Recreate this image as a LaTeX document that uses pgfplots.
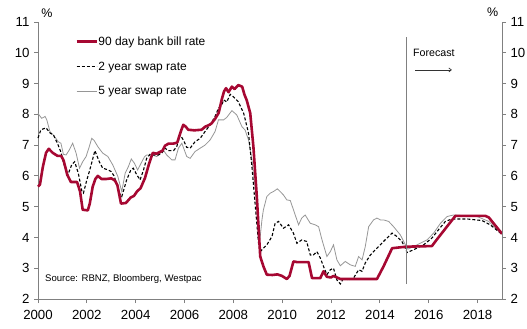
\documentclass[border=0pt]{standalone}
\usepackage{pgfplots}
\pgfplotsset{compat=1.18}
\usepackage{fontspec}
\setmainfont{Liberation Sans}
\usetikzlibrary{arrows.meta}
\definecolor{wred}{RGB}{166,8,50}
\definecolor{wgrey}{RGB}{150,150,150}
\definecolor{axgrey}{RGB}{128,128,128}

\begin{document}
\begin{tikzpicture}
\pgfplotsset{
  common/.style={
    scale only axis, width=464bp, height=277bp,
    xmin=2000, xmax=2019, ymin=2, ymax=11,
    at={(0bp,0bp)}, anchor=origin,
    /pgf/number format/assume math mode=true,
    ticklabel style={font=\fontsize{13.3}{15}\selectfont},
    tick style={axgrey, line width=0.8bp},
    axis line style={axgrey, line width=1bp},
    tick align=outside,
    major tick length=4bp,
    ytick={2,3,...,11},
  }
}
\begin{axis}[common,
  axis x line*=bottom, axis y line*=left,
  xtick={2000,2002,...,2018},
  xticklabel style={/pgf/number format/1000 sep={}, yshift=-3.5bp},
  yticklabel style={xshift=-1bp},
  legend style={at={(rel axis cs:0.08,0.962)}, anchor=north west, draw=none, fill=none,
    font=\fontsize{12}{14}\selectfont, row sep=11bp, inner xsep=0bp,
    nodes={inner xsep=0.5bp}},
  legend cell align=left,
  legend image code/.code={\draw[#1] (0bp,0bp) -- (20bp,0bp);},
  clip=false,
]
\addplot[wgrey, line width=0.8bp, forget plot] coordinates {
(2000.0,8.03)(2000.15,7.87)(2000.29,7.93)(2000.36,7.82)(2000.49,7.44)(2000.63,7.33)(2000.83,7.11)(2000.94,7.06)
(2001.04,6.7)(2001.15,6.68)(2001.28,6.84)(2001.42,7.06)(2001.56,6.74)(2001.7,6.25)(2001.83,6.46)(2001.97,6.63)
(2002.1,6.95)(2002.2,7.22)(2002.3,7.15)(2002.45,6.95)(2002.65,6.74)(2002.86,6.63)(2003.06,6.36)(2003.27,5.98)
(2003.43,5.49)(2003.57,6.09)(2003.7,6.3)(2003.82,6.55)(2003.95,6.41)(2004.08,6.19)(2004.22,6.41)(2004.36,6.62)
(2004.45,6.68)(2004.66,6.68)(2004.86,6.63)(2005.0,6.74)(2005.13,6.84)(2005.27,6.68)(2005.48,6.52)(2005.61,6.52)
(2005.75,6.9)(2005.89,7.06)(2006.09,6.63)(2006.23,6.57)(2006.43,6.79)(2006.64,6.9)(2006.84,7.0)(2007.05,7.17)
(2007.25,7.44)(2007.39,7.82)(2007.6,7.82)(2007.73,7.9)(2007.94,8.12)(2008.14,7.98)(2008.35,7.6)(2008.48,7.49)
(2008.62,7.17)(2008.76,6.52)(2008.9,5.55)(2009.03,4.35)(2009.1,4.03)(2009.17,4.57)(2009.23,4.9)(2009.3,5.11)
(2009.37,5.33)(2009.51,5.44)(2009.64,5.49)(2009.8,5.58)(2009.92,5.49)(2010.05,5.38)(2010.19,5.22)(2010.33,5.2)
(2010.46,4.9)(2010.67,4.41)(2010.8,4.63)(2010.94,4.73)(2011.15,4.46)(2011.35,4.41)(2011.49,4.35)(2011.63,3.92)
(2011.83,3.38)(2011.97,3.54)(2012.1,3.76)(2012.24,3.27)(2012.38,3.08)(2012.58,3.22)(2012.79,3.11)(2012.99,3.06)
(2013.13,3.38)(2013.27,3.27)(2013.4,3.7)(2013.54,4.35)(2013.74,4.57)(2013.88,4.63)(2014.02,4.57)(2014.15,4.57)
(2014.36,4.52)(2014.56,4.35)(2014.84,4.08)(2015.05,3.75)(2015.15,3.62)(2015.52,3.76)(2015.93,3.92)(2016.2,4.14)
(2016.48,4.46)(2016.75,4.68)(2017.02,4.73)(2017.98,4.68)(2018.46,4.52)(2019.0,4.1)
};
\addplot[black, line width=1.1bp, dash pattern=on 3bp off 2bp, forget plot] coordinates {
(2000.0,7.23)(2000.12,7.5)(2000.33,7.56)(2000.5,7.39)(2000.63,7.33)(2000.8,7.05)(2000.95,6.75)(2001.03,6.45)
(2001.22,6.03)(2001.38,6.36)(2001.5,6.46)(2001.65,6.09)(2001.8,5.49)(2001.86,5.44)(2002.0,5.87)(2002.12,6.19)
(2002.33,6.82)(2002.51,6.46)(2002.65,6.25)(2002.86,6.2)(2003.0,6.14)(2003.13,5.98)(2003.2,5.76)(2003.33,5.44)
(2003.43,5.33)(2003.63,5.87)(2003.8,6.19)(2003.9,6.25)(2004.05,6.03)(2004.18,5.87)(2004.32,6.19)(2004.45,6.57)
(2004.59,6.7)(2004.73,6.68)(2004.93,6.68)(2005.07,6.74)(2005.2,6.9)(2005.34,6.82)(2005.55,6.82)(2005.68,6.95)
(2005.82,7.33)(2005.95,7.17)(2006.09,6.93)(2006.23,6.9)(2006.43,7.11)(2006.64,7.22)(2006.84,7.44)(2007.05,7.66)
(2007.25,7.93)(2007.39,8.2)(2007.53,8.3)(2007.6,8.47)(2007.73,8.4)(2007.87,8.65)(2008.0,8.57)(2008.2,8.41)
(2008.42,8.04)(2008.62,7.39)(2008.76,6.3)(2008.9,5.0)(2009.03,3.81)(2009.1,3.54)(2009.23,3.65)(2009.37,3.76)
(2009.58,4.03)(2009.71,4.46)(2009.85,4.52)(2010.05,4.3)(2010.26,4.41)(2010.46,4.14)(2010.6,3.81)(2010.8,3.92)
(2011.0,3.87)(2011.15,3.43)(2011.28,3.43)(2011.42,3.54)(2011.56,3.33)(2011.69,3.06)(2011.83,2.79)(2011.97,2.95)
(2012.1,3.0)(2012.24,2.62)(2012.38,2.49)(2012.51,2.68)(2012.72,2.62)(2012.92,2.68)(2013.13,2.95)(2013.27,2.9)
(2013.4,3.17)(2013.61,3.43)(2013.74,3.54)(2013.88,3.65)(2014.02,3.76)(2014.15,3.87)(2014.29,3.98)(2014.5,4.14)
(2014.7,4.03)(2014.9,3.87)(2015.04,3.65)(2015.11,3.51)(2015.38,3.6)(2015.79,3.76)(2016.13,3.98)(2016.4,4.25)
(2016.68,4.52)(2016.95,4.6)(2017.57,4.6)(2018.18,4.55)(2018.52,4.41)(2019.0,4.1)
};
\addplot[wred, line width=2.6bp, line join=round] coordinates {
(2000.0,5.65)(2000.08,5.72)(2000.2,6.3)(2000.33,6.75)(2000.44,6.88)(2000.6,6.75)(2000.8,6.65)(2000.95,6.65)
(2001.05,6.5)(2001.2,6.03)(2001.35,5.8)(2001.6,5.8)(2001.72,5.5)(2001.83,4.9)(2002.04,4.88)(2002.12,5.1)
(2002.24,5.65)(2002.35,5.9)(2002.45,6.0)(2002.6,5.9)(2002.8,5.9)(2003.0,5.92)(2003.15,5.85)(2003.25,5.7)
(2003.4,5.1)(2003.6,5.12)(2003.8,5.3)(2003.93,5.35)(2004.06,5.5)(2004.2,5.6)(2004.38,5.93)(2004.55,6.4)
(2004.7,6.75)(2004.85,6.72)(2005.0,6.78)(2005.1,6.82)(2005.2,6.98)(2005.35,7.05)(2005.55,7.05)(2005.7,7.08)
(2005.85,7.45)(2005.95,7.66)(2006.05,7.6)(2006.15,7.5)(2006.4,7.48)(2006.7,7.5)(2006.85,7.6)(2007.0,7.65)
(2007.1,7.7)(2007.25,7.85)(2007.4,8.05)(2007.53,8.5)(2007.62,8.75)(2007.7,8.85)(2007.8,8.72)(2007.94,8.9)
(2008.05,8.82)(2008.2,8.95)(2008.36,8.9)(2008.45,8.65)(2008.55,8.45)(2008.69,8.04)(2008.82,6.95)(2008.96,5.33)
(2009.1,3.38)(2009.23,3.06)(2009.37,2.79)(2009.6,2.78)(2009.8,2.8)(2009.99,2.75)(2010.19,2.65)(2010.3,2.75)
(2010.46,3.22)(2010.6,3.2)(2010.8,3.2)(2011.08,3.2)(2011.22,2.68)(2011.56,2.68)(2011.69,2.9)(2011.83,2.72)
(2012.0,2.7)(2012.1,2.75)(2012.38,2.65)(2013.0,2.65)(2013.88,2.65)(2014.15,3.06)(2014.5,3.65)(2014.84,3.68)
(2015.1,3.7)(2016.13,3.72)(2016.3,3.9)(2017.09,4.7)(2018.32,4.7)(2018.46,4.65)(2019.0,4.12)
};
\addlegendentry{90 day bank bill rate}
\addlegendimage{black, line width=1.1bp, dash pattern=on 3bp off 2bp}
\addlegendentry{2 year swap rate}
\addlegendimage{wgrey, line width=0.8bp}
\addlegendentry{5 year swap rate}
\draw[axgrey, line width=1bp] (axis cs:2015.1,2.48) -- (axis cs:2015.1,10.52);
\node[anchor=west, font=\fontsize{10.7}{12}\selectfont, inner sep=0pt] at (rel axis cs:0.808,0.888) {Forecast};
\draw[-{Straight Barb[length=2.5bp,width=4bp]}, line width=0.7bp, black!80] (rel axis cs:0.8125,0.827) -- (rel axis cs:0.892,0.827);
\node[anchor=west, font=\fontsize{9.6}{11}\selectfont, inner sep=0pt] at (rel axis cs:0.015,0.072) {Source: RBNZ, Bloomberg, Westpac};
\node[font=\fontsize{12.5}{14}\selectfont, inner sep=0pt] at (rel axis cs:0.019,1.03) {\%};
\node[font=\fontsize{12.5}{14}\selectfont, inner sep=0pt] at (rel axis cs:0.98,1.037) {\%};
\end{axis}
\begin{axis}[common,
  axis x line=none, axis y line*=right,
  xtick=\empty,
  yticklabel style={xshift=1bp},
]
\end{axis}
\pgfresetboundingbox
\useasboundingbox (-38bp,-30bp) rectangle (489bp,299bp);
\end{tikzpicture}
\end{document}
